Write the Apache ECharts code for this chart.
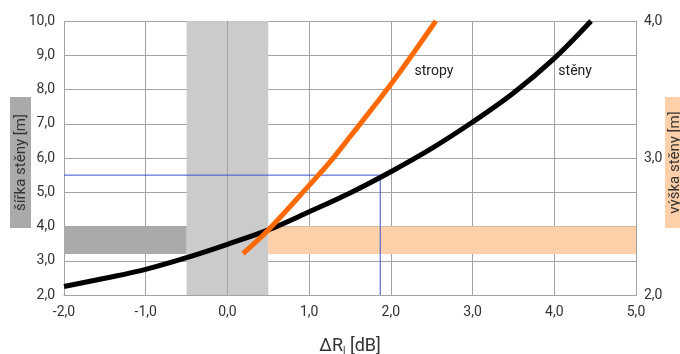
<!DOCTYPE html>
<html>
<head>
<meta charset="utf-8">
<script src="https://cdn.jsdelivr.net/npm/echarts@6/dist/echarts.min.js"></script>
<style>
  html, body { margin: 0; padding: 0; background: #fff; }
  #chart { width: 680px; height: 354px; }
</style>
</head>
<body>
<div id="chart"></div>
<script>
  // stěny (black)
  var stenyX = [-2, -1.5, -1, -0.5, 0, 0.5, 1, 1.5, 2, 2.5, 3, 3.5, 4, 4.45];
  var stenyY = [2.25, 2.49, 2.75, 3.09, 3.48, 3.9, 4.43, 4.98, 5.6, 6.28, 7.05, 7.9, 8.91, 10];
  // stropy (orange)
  var stropyX = [0.19, 0.5, 1.0, 1.25, 1.5, 2.0, 2.55];
  var stropyY = [3.21, 3.9, 5.2, 5.87, 6.62, 8.15, 10];

  // bands & guide line
  var bandX = [-0.5, 0.5];
  var bandY = [3.2, 4.0];
  var guideX = 1.87;
  var guideY = 5.5;

  var xRange = [-2, 5];
  var leftRange = [2, 10];
  var rightRange = [2, 4];

  var font = 'Roboto';
  var gridColor = '#a3a3a3';

  function pairs(xs, ys) {
    var out = [];
    for (var i = 0; i < xs.length; i++) out.push([xs[i], ys[i]]);
    return out;
  }
  function fmt(v) { return v.toFixed(1).replace('.', ','); }

  var chart = echarts.init(document.getElementById('chart'));

  var option = {
    animation: false,
    grid: { left: 64, right: 44, top: 21, bottom: 59, outerBoundsMode: 'none' },
    xAxis: {
      type: 'value',
      z: 1,
      min: xRange[0], max: xRange[1], interval: 1,
      axisLine: { show: true, lineStyle: { color: gridColor, width: 1 } },
      axisTick: { show: false },
      axisLabel: { color: '#333', fontFamily: font, fontSize: 14, margin: 10, formatter: fmt },
      splitLine: { show: true, lineStyle: { color: gridColor, width: 1 } },
      name: '{a|ΔR}{s|l}{a| [dB]}',
      nameLocation: 'middle',
      nameGap: 42,
      nameTextStyle: {
        rich: {
          a: { fontFamily: font, fontSize: 18, color: '#333' },
          s: { fontFamily: font, fontSize: 10, color: '#333', padding: [9, 0, 0, 0] }
        }
      }
    },
    yAxis: [{
      type: 'value',
      z: 1,
      min: leftRange[0], max: leftRange[1], interval: 1,
      axisLine: { show: true, lineStyle: { color: gridColor, width: 1 } },
      axisTick: { show: false },
      axisLabel: { color: '#333', fontFamily: font, fontSize: 14, margin: 9, formatter: fmt },
      splitLine: { show: true, lineStyle: { color: gridColor, width: 1 } }
    }, {
      type: 'value',
      z: 1,
      position: 'right',
      min: rightRange[0], max: rightRange[1], interval: 1,
      axisLine: { show: true, lineStyle: { color: gridColor, width: 1 } },
      axisTick: { show: false },
      axisLabel: { color: '#333', fontFamily: font, fontSize: 14, margin: 8, formatter: fmt },
      splitLine: { show: false }
    }],
    series: [{
      // shaded zones
      type: 'line',
      z: 0,
      data: [],
      silent: true,
      markArea: {
        silent: true,
        data: [
          [{ xAxis: bandX[0], itemStyle: { color: '#cbcbcb' } }, { xAxis: bandX[1] }],
          [{ coord: [xRange[0], bandY[0]], itemStyle: { color: '#aaaaaa' } }, { coord: [bandX[0], bandY[1]] }],
          [{ coord: [bandX[1], bandY[0]], itemStyle: { color: '#fdd0aa' } }, { coord: [xRange[1], bandY[1]] }]
        ]
      }
    }, {
      // guide line (5,5 m read at ΔR ≈ 1,87 dB)
      type: 'line',
      z: 2,
      silent: true,
      showSymbol: false,
      lineStyle: { color: '#3a52c8', width: 1 },
      data: [[xRange[0], guideY], [guideX, guideY], [guideX, leftRange[0]]]
    }, {
      name: 'stěny',
      type: 'line',
      z: 3,
      smooth: 0.35,
      showSymbol: false,
      lineStyle: { color: '#000', width: 5 },
      data: pairs(stenyX, stenyY),
      markPoint: {
        symbol: 'circle', symbolSize: 0,
        label: { show: true, position: 'right', distance: 0, formatter: '{b}', color: '#222', fontFamily: font, fontSize: 14 },
        data: [{ name: 'stěny', coord: [4.05, 8.52] }]
      }
    }, {
      name: 'stropy',
      type: 'line',
      z: 3,
      smooth: 0.35,
      showSymbol: false,
      lineStyle: { color: '#ff6a00', width: 5 },
      data: pairs(stropyX, stropyY),
      markPoint: {
        symbol: 'circle', symbolSize: 0,
        label: { show: true, position: 'right', distance: 0, formatter: '{b}', color: '#222', fontFamily: font, fontSize: 14 },
        data: [{ name: 'stropy', coord: [2.29, 8.52] }]
      }
    }],
    graphic: [{
      type: 'group',
      left: 10, top: 97,
      children: [{
        type: 'rect',
        shape: { x: 0, y: 0, width: 21, height: 131 },
        style: { fill: '#aaaaaa' }
      }, {
        type: 'text',
        x: 11, y: 65.5, rotation: Math.PI / 2,
        style: { text: 'šířka stěny [m]', fill: '#333', font: '15px Roboto', align: 'center', verticalAlign: 'middle' }
      }]
    }, {
      type: 'group',
      left: 665, top: 97,
      children: [{
        type: 'rect',
        shape: { x: 0, y: 0, width: 21, height: 131 },
        style: { fill: '#fdd0aa' }
      }, {
        type: 'text',
        x: 10, y: 65.5, rotation: Math.PI / 2,
        style: { text: 'výška stěny [m]', fill: '#333', font: '15px Roboto', align: 'center', verticalAlign: 'middle' }
      }]
    }]
  };

  chart.setOption(option);
</script>
</body>
</html>
